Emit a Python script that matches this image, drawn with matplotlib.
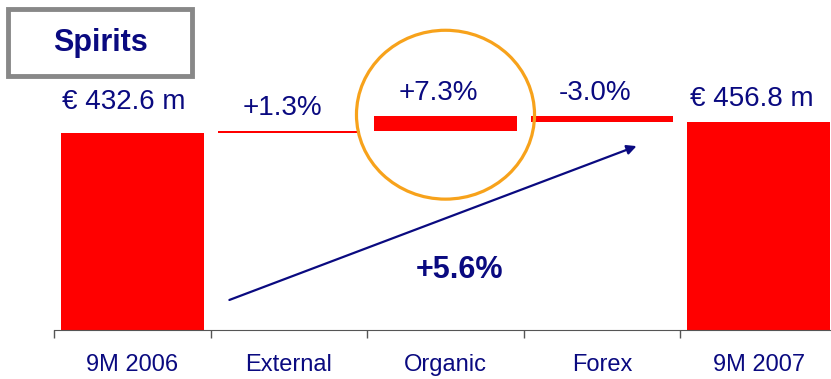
import matplotlib.pyplot as plt
from matplotlib.patches import Ellipse, FancyBboxPatch
import numpy as np

plt.rcParams['font.family'] = ['Liberation Sans', 'DejaVu Sans']

categories = ['9M 2006', 'External', 'Organic', 'Forex', '9M 2007']
start_value = 432.6
end_value = 456.8
steps = [5.6, 31.6, -13.0]          # external, organic, forex in EUR m
labels = ['€ 432.6 m', '+1.3%', '+7.3%', '-3.0%', '€ 456.8 m']
total_growth = '+5.6%'

navy = '#0a0a80'
red = '#ff0000'

# waterfall bottoms / heights
bottoms = [0]
heights = [start_value]
level = start_value
for s in steps:
    bottoms.append(min(level, level + s))
    heights.append(abs(s))
    level += s
bottoms.append(0)
heights.append(end_value)
tops = np.array(bottoms) + np.array(heights)

fig = plt.figure(figsize=(8.31, 3.79), dpi=100)
ax = fig.add_axes([54 / 831, 49 / 379, 5 * 156.6 / 831, 330 / 379])
x = np.arange(len(categories))
ax.bar(x, heights, bottom=bottoms, width=0.91, color=red)
ax.set_xlim(-0.5, 4.5)
ax.set_ylim(0, 725)

for i, (t, lab) in enumerate(zip(tops, labels)):
    off = 13 if i == 0 else 7
    ax.annotate(lab, (x[i], t), xytext=(-6 if i == 0 else -5, off),
                textcoords='offset points', ha='center', va='bottom',
                fontsize=20, color=navy)

# axis styling
for s in ['top', 'right', 'left']:
    ax.spines[s].set_visible(False)
ax.spines['bottom'].set_color('#555555')
ax.set_yticks([])
ax.set_xticks(x)
ax.set_xticklabels(categories, fontsize=17, color=navy)
ax.tick_params(axis='x', which='major', length=0, pad=17)
ax.set_xticks(np.arange(-0.5, 4.5, 1), minor=True)
ax.tick_params(axis='x', which='minor', length=6, color='#555555', width=1)

# highlight circle round organic growth
ax.add_patch(Ellipse((2, 473), 1.137, 371, fill=False, edgecolor='#f7a21b',
                     linewidth=2.3, clip_on=False))

# overall growth arrow
ax.annotate('', xy=(3.22, 404), xytext=(0.62, 66),
            arrowprops=dict(arrowstyle='-|>', color=navy, lw=1.6,
                            mutation_scale=14, shrinkA=0, shrinkB=0))
ax.text(2.09, 132, total_growth, ha='center', va='center', fontsize=22,
        fontweight='bold', color=navy)

# title box
fig.patches.append(FancyBboxPatch((8 / 831, 1 - 76 / 379), 184 / 831, 67 / 379,
                                  boxstyle='square,pad=0', transform=fig.transFigure,
                                  facecolor='white', edgecolor='#888888', linewidth=3.5))
fig.text(100 / 831, 1 - 43 / 379, 'Spirits', ha='center', va='center',
         fontsize=22, fontweight='bold', color=navy)

fig.savefig('out.png', dpi=100)
